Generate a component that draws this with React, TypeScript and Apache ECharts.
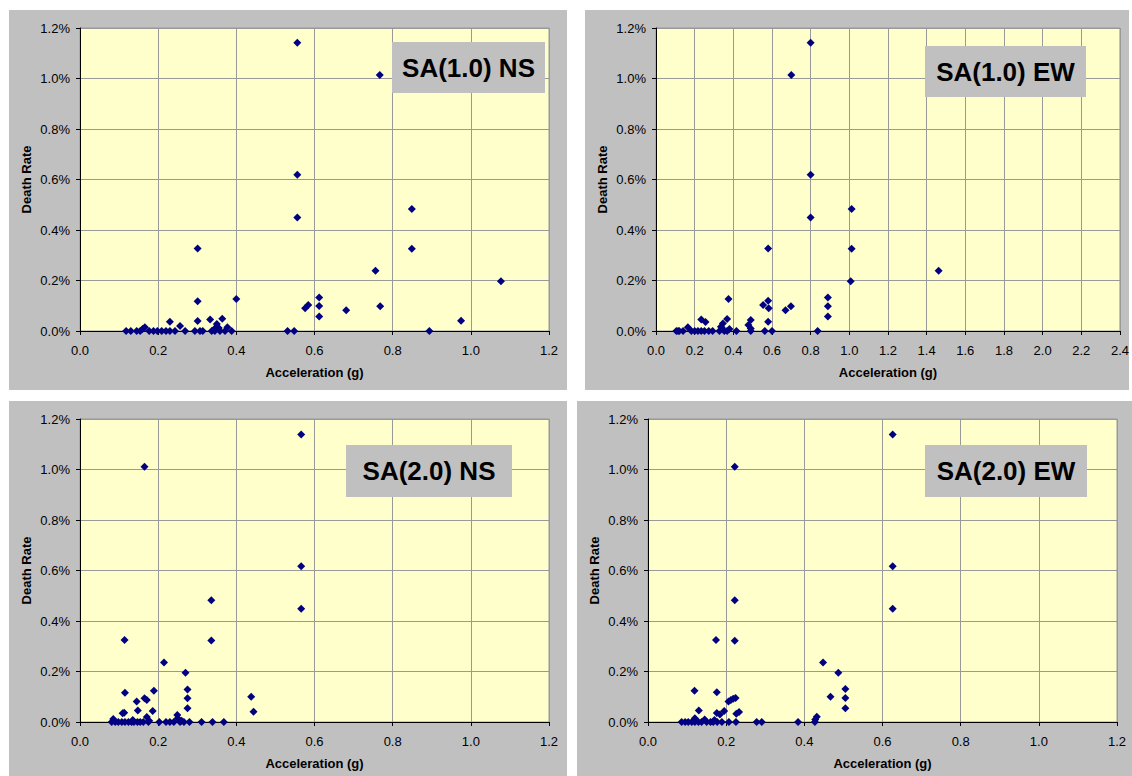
import React, { useEffect, useRef } from "react";
import * as echarts from "echarts";

// ---- Data (Acceleration in g, Death Rate in %) ----
const sa10nsX = [0.118, 0.130, 0.145, 0.154, 0.177, 0.188, 0.198, 0.209, 0.220, 0.230, 0.243, 0.269, 0.294, 0.307, 0.314, 0.337, 0.345, 0.358, 0.371, 0.388, 0.531, 0.548, 0.894,
  0.166, 0.256, 0.350, 0.377, 0.160,
  0.230, 0.301, 0.301, 0.301, 0.333, 0.364, 0.400, 0.556, 0.767, 0.556, 0.556, 0.849, 0.849, 0.756, 1.077, 0.975, 0.576, 0.584, 0.612, 0.612, 0.612, 0.681, 0.768, 0.345, 0.355];
const sa10nsY = [0, 0, 0, 0, 0, 0, 0, 0, 0, 0, 0, 0, 0, 0, 0, 0, 0, 0, 0, 0, 0, 0, 0,
  0.015, 0.020, 0.028, 0.015, 0.008,
  0.037, 0.327, 0.118, 0.040, 0.046, 0.049, 0.127, 1.142, 1.014, 0.619, 0.450, 0.483, 0.326, 0.239, 0.197, 0.041, 0.090, 0.103, 0.133, 0.099, 0.057, 0.082, 0.098, 0.010, 0.012];

const sa10ewX = [0.114, 0.140, 0.183, 0.200, 0.217, 0.234, 0.251, 0.273, 0.293, 0.328, 0.353, 0.368, 0.416, 0.490, 0.563, 0.600, 0.836, 0.105, 0.120,
  0.165, 0.341, 0.336, 0.478, 0.490, 0.380,
  0.234, 0.256, 0.375, 0.368, 0.346, 0.490, 0.554, 0.580, 0.583, 0.580, 0.670, 0.698, 0.889, 0.889, 0.889, 0.800, 0.700, 0.800, 0.800, 1.012, 1.012, 1.007, 0.580, 1.462];
const sa10ewY = [0, 0, 0, 0, 0, 0, 0, 0, 0, 0, 0, 0, 0, 0, 0, 0, 0, 0, 0,
  0.015, 0.012, 0.017, 0.024, 0.010, 0.008,
  0.046, 0.036, 0.127, 0.048, 0.030, 0.044, 0.103, 0.120, 0.090, 0.037, 0.082, 0.098, 0.133, 0.098, 0.057, 1.142, 1.014, 0.619, 0.450, 0.483, 0.326, 0.197, 0.327, 0.239];

const sa20nsX = [0.081, 0.090, 0.098, 0.107, 0.115, 0.124, 0.132, 0.138, 0.147, 0.154, 0.162, 0.175, 0.203, 0.220, 0.230, 0.240, 0.256, 0.266, 0.280, 0.311, 0.339, 0.368,
  0.085, 0.171, 0.250, 0.135, 0.177, 0.260,
  0.114, 0.336, 0.336, 0.165, 0.566, 0.566, 0.566, 0.215, 0.270, 0.115, 0.189, 0.275, 0.275, 0.275, 0.145, 0.165, 0.171, 0.438, 0.444, 0.113, 0.109, 0.148, 0.186, 0.249];
const sa20nsY = [0, 0, 0, 0, 0, 0, 0, 0, 0, 0, 0, 0, 0, 0, 0, 0, 0, 0, 0, 0, 0, 0,
  0.012, 0.020, 0.015, 0.008, 0.005, 0.005,
  0.325, 0.482, 0.323, 1.011, 1.139, 0.617, 0.449, 0.236, 0.195, 0.116, 0.124, 0.129, 0.094, 0.054, 0.081, 0.094, 0.087, 0.100, 0.041, 0.037, 0.035, 0.046, 0.044, 0.028];

const sa20ewX = [0.086, 0.095, 0.103, 0.112, 0.120, 0.129, 0.137, 0.150, 0.160, 0.167, 0.177, 0.189, 0.207, 0.225, 0.278, 0.291, 0.384, 0.427,
  0.428, 0.432, 0.120, 0.145, 0.170,
  0.174, 0.222, 0.222, 0.222, 0.626, 0.626, 0.626, 0.448, 0.487, 0.119, 0.176, 0.505, 0.505, 0.505, 0.467, 0.206, 0.212, 0.218, 0.224, 0.130, 0.195, 0.176, 0.233, 0.226, 0.184];
const sa20ewY = [0, 0, 0, 0, 0, 0, 0, 0, 0, 0, 0, 0, 0, 0, 0, 0, 0, 0,
  0.010, 0.021, 0.015, 0.010, 0.008,
  0.325, 0.322, 0.482, 1.011, 1.139, 0.617, 0.449, 0.236, 0.195, 0.124, 0.118, 0.131, 0.095, 0.054, 0.100, 0.081, 0.087, 0.092, 0.095, 0.046, 0.044, 0.036, 0.040, 0.033, 0.030];

const panelTitles = ["SA(1.0) NS", "SA(1.0) EW", "SA(2.0) NS", "SA(2.0) EW"];
const xMaxes = [1.2, 2.4, 1.2, 1.2];
const yMax = 1.2;
const yStep = 0.2;
const xStep = 0.2;
const xAxisTitle = "Acceleration (g)";
const yAxisTitle = "Death Rate";

const seriesX = [sa10nsX, sa10ewX, sa20nsX, sa20ewX];
const seriesY = [sa10nsY, sa10ewY, sa20nsY, sa20ewY];

// ---- Layout ----
const panels = [
  { x: 9, y: 10, w: 558, h: 380 },
  { x: 585, y: 10, w: 544, h: 380 },
  { x: 9, y: 401, w: 558, h: 375 },
  { x: 577, y: 401, w: 555, h: 375 },
];
const grids = [
  { left: 80, top: 28, width: 469, height: 303 },
  { left: 656, top: 28, width: 469, height: 303 },
  { left: 80, top: 419, width: 469, height: 303 },
  { left: 648, top: 419, width: 469, height: 303 },
];
const boxes = [
  { x: 392, y: 42, w: 153, h: 51 },
  { x: 925, y: 46, w: 161, h: 51 },
  { x: 346, y: 445, w: 166, h: 52 },
  { x: 925, y: 445, w: 162, h: 52 },
];

const FONT = "Arial, 'Liberation Sans', sans-serif";

export default function App() {
  const ref = useRef<HTMLDivElement>(null);
  useEffect(() => {
    if (!ref.current) return;
    const chart = echarts.init(ref.current, undefined, { renderer: "svg" });
    const graphic: any[] = [];
    panels.forEach((p) => {
      graphic.push({ type: "rect", z: -10, shape: { x: p.x, y: p.y, width: p.w, height: p.h }, style: { fill: "#C0C0C0" }, silent: true });
    });
    boxes.forEach((b, i) => {
      graphic.push({ type: "rect", z: 100, shape: { x: b.x, y: b.y, width: b.w, height: b.h }, style: { fill: "#C0C0C0" }, silent: true });
      graphic.push({
        type: "text", z: 101, x: b.x + b.w / 2, y: b.y + b.h / 2,
        style: { text: panelTitles[i], fill: "#000", font: `bold 26px ${FONT}`, textAlign: "center", textVerticalAlign: "middle" },
        silent: true,
      });
    });
    const option: any = {
      animation: false,
      backgroundColor: "#FFFFFF",
      graphic,
      grid: grids.map((g) => ({ ...g, show: true, backgroundColor: "#FFFFCC", borderColor: "#999999", borderWidth: 1, containLabel: false })),
      xAxis: grids.map((_, i) => ({
        type: "value", gridIndex: i, min: 0, max: xMaxes[i], interval: xStep,
        name: xAxisTitle, nameLocation: "middle", nameGap: 35,
        nameTextStyle: { fontFamily: FONT, fontSize: 13, fontWeight: "bold", color: "#000" },
        axisLine: { show: true, onZero: false, lineStyle: { color: "#000", width: 1 } },
        axisTick: { show: true, length: 4, lineStyle: { color: "#000" } },
        axisLabel: { show: true, margin: 13, fontFamily: FONT, fontSize: 13, color: "#000", formatter: (v: number) => v.toFixed(1), showMinLabel: true, showMaxLabel: true, hideOverlap: false },
        splitLine: { show: true, lineStyle: { color: "#999999", width: 1 } },
      })),
      yAxis: grids.map((_, i) => ({
        type: "value", gridIndex: i, min: 0, max: yMax, interval: yStep,
        name: yAxisTitle, nameLocation: "middle", nameGap: 47, nameRotate: 90,
        nameTextStyle: { fontFamily: FONT, fontSize: 13, fontWeight: "bold", color: "#000" },
        axisLine: { show: true, onZero: false, lineStyle: { color: "#000", width: 1 } },
        axisTick: { show: true, length: 4, lineStyle: { color: "#000" } },
        axisLabel: { show: true, margin: 10, fontFamily: FONT, fontSize: 13, color: "#000", formatter: (v: number) => v.toFixed(1) + "%", showMinLabel: true, showMaxLabel: true },
        splitLine: { show: true, lineStyle: { color: "#999999", width: 1 } },
      })),
      series: seriesX.map((xs, i) => ({
        type: "scatter", xAxisIndex: i, yAxisIndex: i,
        symbol: "diamond", symbolSize: 8,
        itemStyle: { color: "#000080", opacity: 1 },
        data: xs.map((x, j) => [x, seriesY[i][j]]),
        z: 5,
      })),
    };
    chart.setOption(option);
    return () => chart.dispose();
  }, []);
  return (
    <div
      ref={ref}
      style={{ position: "fixed", left: 0, top: 0, width: 1132, height: 776 }}
    />
  );
}
